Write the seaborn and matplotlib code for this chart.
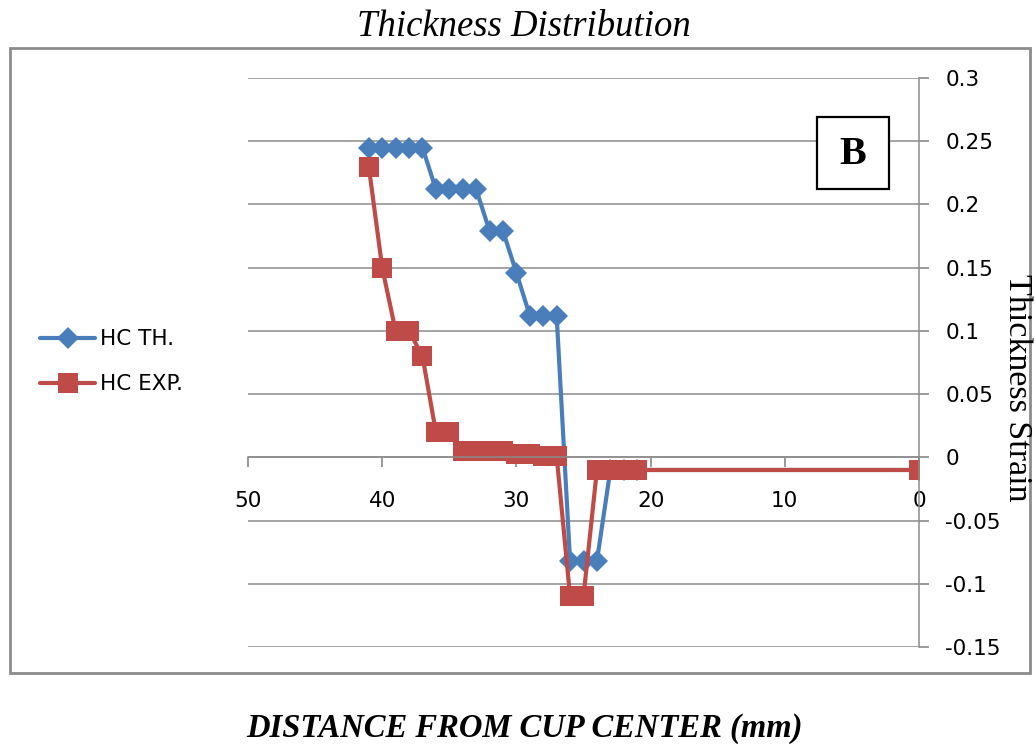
import pandas as pd
import seaborn as sns
import matplotlib.pyplot as plt
from matplotlib.patches import Rectangle

# values
dist_th = [41, 40, 39, 38, 37, 36, 35, 34, 33, 32, 31, 30, 29, 28, 27, 26, 25, 24, 23, 22, 21, 0]
strain_th = [0.245, 0.245, 0.245, 0.245, 0.245, 0.212, 0.212, 0.212, 0.212, 0.179, 0.179,
             0.146, 0.112, 0.112, 0.112, -0.082, -0.082, -0.082, -0.01, -0.01, -0.01, -0.01]

dist_exp = [41, 40, 39, 38, 37, 36, 35, 34, 33, 32, 31, 30, 29, 28, 27, 26, 25, 24, 23, 22, 21, 0]
strain_exp = [0.23, 0.15, 0.1, 0.1, 0.08, 0.02, 0.02, 0.005, 0.005, 0.005, 0.005, 0.003,
              0.003, 0.001, 0.001, -0.11, -0.11, -0.01, -0.01, -0.01, -0.01, -0.01]

x_ticks = [50, 40, 30, 20, 10, 0]
y_ticks = [-0.15, -0.1, -0.05, 0, 0.05, 0.1, 0.15, 0.2, 0.25, 0.3]
y_labels = ["-0.15", "-0.1", "-0.05", "0", "0.05", "0.1", "0.15", "0.2", "0.25", "0.3"]

df_th = pd.DataFrame({"dist": dist_th, "strain": strain_th})
df_exp = pd.DataFrame({"dist": dist_exp, "strain": strain_exp})

sns.set_theme(style="white")
plt.rcParams["font.family"] = ["DejaVu Sans"]
plt.rcParams["text.color"] = "black"
plt.rcParams["xtick.color"] = "black"
plt.rcParams["ytick.color"] = "black"

blue = "#4A7EBB"
red = "#BE4B48"
grid = "#8C8C8C"

fig = plt.figure(figsize=(10.35, 7.46), dpi=100)
ax = fig.add_axes([248 / 1035, 1 - 647 / 746, (919 - 248) / 1035, (647 - 78) / 746])

sns.lineplot(data=df_th, x="dist", y="strain", ax=ax, color=blue, lw=3,
             marker="D", markersize=11.5, markeredgewidth=0, estimator=None,
             sort=False, label="HC TH.")
sns.lineplot(data=df_exp, x="dist", y="strain", ax=ax, color=red, lw=3,
             marker="s", markersize=14, markeredgewidth=0, estimator=None,
             sort=False, label="HC EXP.")

ax.set_xlim(50, 0)
ax.set_ylim(-0.15, 0.3)
ax.set_xticks(x_ticks)
ax.set_xticklabels([str(t) for t in x_ticks])
ax.set_yticks(y_ticks)
ax.set_yticklabels(y_labels)

ax.yaxis.tick_right()
ax.grid(axis="y", color=grid, lw=1.1)
ax.grid(axis="x", visible=False)
ax.set_axisbelow(True)
for s in ["left", "top"]:
    ax.spines[s].set_visible(False)
ax.spines["right"].set_color(grid)
ax.spines["bottom"].set_color(grid)
ax.spines["bottom"].set_position(("data", 0))
ax.spines["right"].set_linewidth(1.1)
ax.spines["bottom"].set_linewidth(1.1)
ax.tick_params(axis="y", which="both", right=True, left=False, direction="out",
               length=7, color=grid, labelsize=15.5, pad=12)
ax.tick_params(axis="x", bottom=True, direction="out", length=7, color=grid,
               labelsize=15.5, pad=17)
ax.set_xlabel("")
ax.set_ylabel("")

# legend on the left of the plot area
handles, labels = ax.get_legend_handles_labels()
ax.get_legend().remove()
fig.legend(handles, labels, loc="center left", bbox_to_anchor=(0.02, 0.515),
           frameon=False, fontsize=15.5, handlelength=2.55, labelspacing=1.15,
           handletextpad=0.25)

# "B" panel label
fig.patches.append(Rectangle((817 / 1035, 1 - 189 / 746), 72 / 1035, 72 / 746,
                             transform=fig.transFigure, fc="white", ec="black",
                             lw=1.6, zorder=5))
fig.text(853 / 1035, 1 - 155 / 746, "B", ha="center", va="center", fontsize=29,
         fontweight="bold", family="Liberation Serif", zorder=6)

# outer chart frame
fig.patches.append(Rectangle((10 / 1035, 1 - 673 / 746), 1020 / 1035, 625 / 746,
                             transform=fig.transFigure, fill=False, ec=grid, lw=2))

fig.text(524 / 1035, 1 - 27 / 746, "Thickness Distribution", ha="center", va="center",
         family="Liberation Serif", style="italic", fontsize=26.5)
fig.text(524 / 1035, 1 - 729 / 746, "DISTANCE FROM CUP CENTER (mm)", ha="center",
         va="center", family="Liberation Serif", style="italic", fontweight="bold",
         fontsize=23.5)
fig.text(1017 / 1035, 1 - 388 / 746, "Thickness Strain", ha="center", va="center",
         rotation=270, family="Liberation Serif", fontsize=24.5)

fig.savefig("out.png", dpi=100)
